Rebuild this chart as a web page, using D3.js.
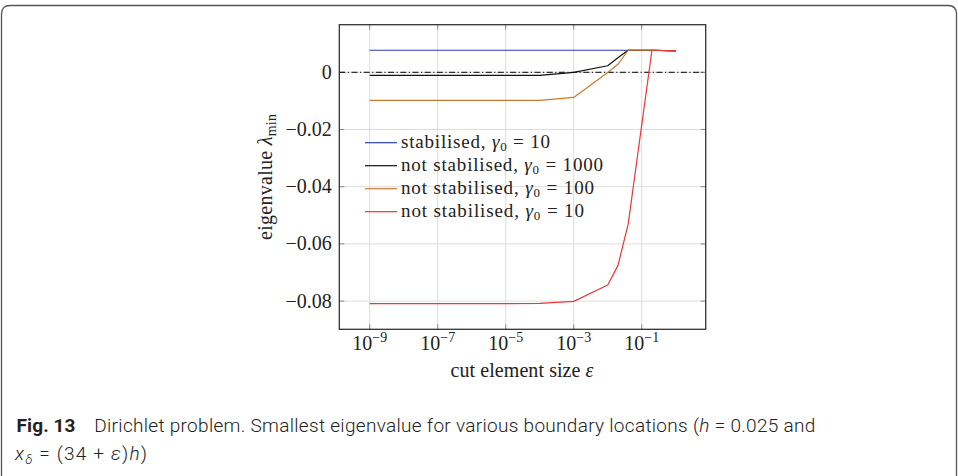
<!DOCTYPE html>
<html><head><meta charset="utf-8">
<script src="https://cdn.jsdelivr.net/npm/d3@7"></script>
<style>body{margin:0;background:#fff}svg{display:block}</style>
</head><body>
<svg id="c" width="958" height="476"></svg>
<script>
// ---- data ----
const eps = [1e-9,1e-8,1e-7,1e-6,1e-5,1e-4,1e-3,1e-2,2e-2,4e-2,2e-1,1];
const stab10   = [0.0077,0.0077,0.0077,0.0077,0.0077,0.0077,0.0077,0.0077,0.0077,0.0077,0.0077,0.0075];
const nostab1000 = [-0.00105,-0.00105,-0.00105,-0.00105,-0.00105,-0.00105,-0.00005,0.0023,0.0051,0.0077,0.0077,0.0075];
const nostab100  = [-0.0098,-0.0098,-0.0098,-0.0098,-0.0098,-0.0098,-0.0088,-0.0001,0.0028,0.0077,0.0077,0.0075];
const nostab10   = [-0.0809,-0.0809,-0.0809,-0.0809,-0.0809,-0.0808,-0.0801,-0.0744,-0.0676,-0.0531,0.0077,0.0075];
const seriesNames = ["stabilised", "not stabilised", "not stabilised", "not stabilised"];
const gammaVals = ["10","1000","100","10"];
const seriesColors = ["#2e3db3","#111111","#c97a2e","#e8383a"];
const xTickExps = [-9,-7,-5,-3,-1];
const yTicks = [0,-0.02,-0.04,-0.06,-0.08];
const yTickLabels = ["0","\u22120.02","\u22120.04","\u22120.06","\u22120.08"];

const svg = d3.select("#c");
const serif = "'Liberation Serif','DejaVu Serif',serif";

// frame
svg.append("path")
  .attr("d","M1.5,490 L1.5,14 Q1.5,5.5 10,5.5 L948,5.5 Q956.5,5.5 956.5,14 L956.5,490")
  .attr("fill","none").attr("stroke","#555").attr("stroke-width",1.3);

const L=339.3, R=705.7, T=24.7, B=329.3;
const x = d3.scaleLog().domain([Math.pow(10,-9.894), Math.pow(10,0.882)]).range([L,R]);
const y = d3.scaleLinear().domain([-0.08986,0.01664]).range([B,T]);

// grid
const g = svg.append("g");
g.selectAll(".gx").data(xTickExps).enter().append("line")
  .attr("x1",d=>x(Math.pow(10,d))).attr("x2",d=>x(Math.pow(10,d)))
  .attr("y1",T).attr("y2",B).attr("stroke","#dcdcdc").attr("stroke-width",1);
g.selectAll(".gy").data(yTicks).enter().append("line")
  .attr("x1",L).attr("x2",R).attr("y1",d=>y(d)).attr("y2",d=>y(d))
  .attr("stroke","#dcdcdc").attr("stroke-width",1);

// ticks (inside, both sides)
const tk=5;
xTickExps.forEach(e=>{
  const xv=x(Math.pow(10,e));
  g.append("line").attr("x1",xv).attr("x2",xv).attr("y1",B).attr("y2",B-tk).attr("stroke","#888");
  g.append("line").attr("x1",xv).attr("x2",xv).attr("y1",T).attr("y2",T+tk).attr("stroke","#888");
});
yTicks.forEach(v=>{
  const yv=y(v);
  g.append("line").attr("x1",L).attr("x2",L+tk).attr("y1",yv).attr("y2",yv).attr("stroke","#888");
  g.append("line").attr("x1",R).attr("x2",R-tk).attr("y1",yv).attr("y2",yv).attr("stroke","#888");
});

// zero line dash-dot
svg.append("line").attr("x1",L).attr("x2",R).attr("y1",y(0)).attr("y2",y(0))
  .attr("stroke","#000").attr("stroke-width",1).attr("stroke-dasharray","6,2.5,1.2,2.5");

// series
const all=[stab10,nostab1000,nostab100,nostab10];
const line=d3.line().x(d=>x(d[0])).y(d=>y(d[1]));
all.forEach((s,i)=>{
  svg.append("path").datum(eps.map((e,j)=>[e,s[j]]))
    .attr("d",line).attr("fill","none").attr("stroke",seriesColors[i])
    .attr("stroke-width",1.2).attr("stroke-linejoin","round");
});

// axis box
svg.append("rect").attr("x",L).attr("y",T).attr("width",R-L).attr("height",B-T)
  .attr("fill","none").attr("stroke","#333").attr("stroke-width",1.3);

// y tick labels
svg.selectAll(".yl").data(yTicks).enter().append("text")
  .attr("x",L-7.5).attr("y",d=>y(d)+6.5).attr("text-anchor","end")
  .attr("font-family",serif).attr("font-size",20).attr("fill","#222")
  .text((d,i)=>yTickLabels[i]);

// x tick labels
xTickExps.forEach(e=>{
  const t=svg.append("text").attr("x",x(Math.pow(10,e))).attr("y",350)
    .attr("text-anchor","middle").attr("font-family",serif).attr("font-size",20).attr("fill","#222");
  t.append("tspan").text("10");
  t.append("tspan").attr("dy",-8).attr("font-size",14).text("\u2212"+Math.abs(e));
});

// axis labels
svg.append("text").attr("x",522).attr("y",377).attr("text-anchor","middle")
  .attr("font-family",serif).attr("font-size",20).attr("fill","#222")
  .attr("textLength",143).attr("lengthAdjust","spacing")
  .html('cut element size <tspan font-style="italic">\u03b5</tspan>');
const yl=svg.append("text").attr("transform","translate(272,177) rotate(-90)").attr("text-anchor","middle")
  .attr("font-family",serif).attr("font-size",20).attr("fill","#222")
  .attr("textLength",126).attr("lengthAdjust","spacing");
yl.append("tspan").text("eigenvalue ");
yl.append("tspan").attr("font-style","italic").text("\u03bb");
yl.append("tspan").attr("dy",4).attr("font-size",14).text("min");

// legend
const legendLens=[149,202,193,183];
const lg=svg.append("g");
seriesNames.forEach((n,i)=>{
  const yy=142.7+i*23;
  lg.append("line").attr("x1",365).attr("x2",397).attr("y1",yy).attr("y2",yy)
    .attr("stroke",seriesColors[i]).attr("stroke-width",1.2);
  const t=lg.append("text").attr("x",401).attr("y",yy+5.6)
    .attr("font-family",serif).attr("font-size",19).attr("fill","#222")
    .attr("textLength",legendLens[i]).attr("lengthAdjust","spacing");
  t.append("tspan").text(n+", ");
  t.append("tspan").attr("font-style","italic").text("\u03b3");
  t.append("tspan").attr("dy",3).attr("font-size",13).text("0");
  t.append("tspan").attr("dy",-3).text(" = "+gammaVals[i]);
});

// caption
const sans="Roboto,'Open Sans',sans-serif";
svg.append("text").attr("x",16.5).attr("y",432.3).attr("font-family",sans)
  .attr("font-weight",700).attr("font-size",19).attr("fill","#222")
  .attr("textLength",59).attr("lengthAdjust","spacing").text("Fig. 13");
const c1=svg.append("text").attr("x",94.3).attr("y",432.3).attr("font-family",sans)
  .attr("font-weight",300).attr("font-size",19).attr("fill","#222")
  .attr("textLength",721).attr("lengthAdjust","spacing");
c1.append("tspan").text("Dirichlet problem. Smallest eigenvalue for various boundary locations (");
c1.append("tspan").attr("font-style","italic").text("h");
c1.append("tspan").text(" = 0.025 and");
const c2=svg.append("text").attr("x",15).attr("y",460).attr("font-family",sans)
  .attr("font-weight",300).attr("font-size",19).attr("fill","#222")
  .attr("textLength",132).attr("lengthAdjust","spacing");
c2.append("tspan").attr("font-style","italic").text("x");
c2.append("tspan").attr("font-style","italic").attr("dy",4).attr("font-size",13).text("\u03b4");
c2.append("tspan").attr("dy",-4).text(" = (34 + ");
c2.append("tspan").attr("font-style","italic").text("\u03b5");
c2.append("tspan").text(")");
c2.append("tspan").attr("font-style","italic").text("h");
c2.append("tspan").text(")");
</script>
</body></html>
